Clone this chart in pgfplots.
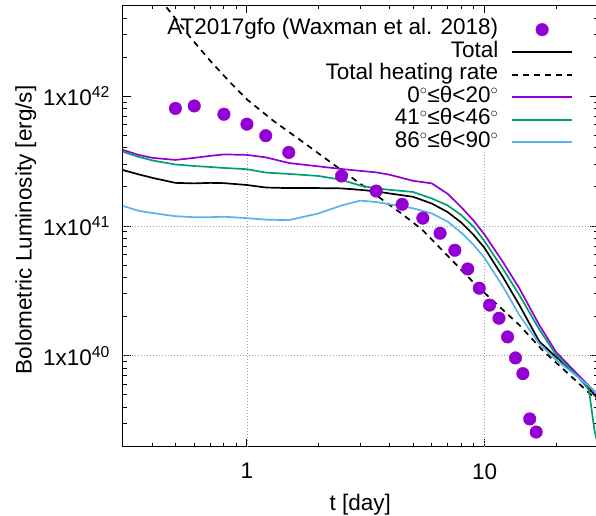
\documentclass[border=0pt]{standalone}
\usepackage{fontspec}
\setmainfont{Liberation Sans}
\usepackage{pgfplots}
\pgfplotsset{compat=1.18}
\definecolor{cpurple}{HTML}{9400D3}
\definecolor{cgreen}{HTML}{009E73}
\definecolor{cblue}{HTML}{56B4E9}
\definecolor{cgrid}{HTML}{A0A0A0}
\pgfplotsset{
  linelegend/.style={legend image code/.code={\draw[##1] (0bp,0bp) -- (60bp,0bp);}},
  dotlegend/.style={legend image code/.code={\draw[mark repeat=2,mark phase=2,##1] plot coordinates {(0bp,0bp) (30bp,0bp) (60bp,0bp)};}},
  gridline/.style={cgrid, line width=0.8bp, dash pattern=on 1bp off 2bp, forget plot},
}

\begin{document}
\fontsize{22.5bp}{27bp}\selectfont
\begin{tikzpicture}[font=\fontsize{22.5bp}{27bp}\selectfont]
\begin{axis}[
  scale only axis, width=475.2bp, height=441.2bp,
  xmode=log, ymode=log,
  xmin=0.3, xmax=30, ymin=2e39, ymax=5e42,
  xtick={1,10}, xticklabels={1,10},
  minor xtick={0.4,0.5,0.6,0.7,0.8,0.9,2,3,4,5,6,7,8,9,20},
  ytick={1e40,1e41,1e42},
  yticklabels={1x10\textsuperscript{40},1x10\textsuperscript{41},1x10\textsuperscript{42}},
  minor ytick={3e39,4e39,5e39,6e39,7e39,8e39,9e39,2e40,3e40,4e40,5e40,6e40,7e40,8e40,9e40,2e41,3e41,4e41,5e41,6e41,7e41,8e41,9e41,2e42,3e42,4e42},
  tick align=inside, xtick pos=both, ytick pos=both,
  major tick length=8bp, minor tick length=4bp,
  every tick/.style={black, line width=1bp},
  axis line style={black, line width=1.2bp},
  xticklabel style={yshift=-9bp},
  yticklabel style={xshift=-5bp},
  xlabel={t [day]}, ylabel={Bolometric Luminosity [erg/s]},
  xlabel style={at={(axis description cs:0.5,0)}, anchor=center, yshift=-58bp},
  ylabel style={at={(axis description cs:-0.204,0.491)}, anchor=center},
  legend style={draw=none, fill=none, at={(0.9476,0.970)}, anchor=north east,
    inner sep=0pt, outer sep=0pt, row sep=0.5bp, column sep=13bp,
    nodes={inner sep=0pt, text height=16bp, text depth=6bp},
    font=\fontsize{22.5bp}{27bp}\selectfont},
  legend cell align=right, legend plot pos=right,
  linelegend,
]
% grid segments
\addplot[gridline] coordinates {(1,2e39) (1,3.7e41)};
\addplot[gridline] coordinates {(10,2e39) (10,3.7e41)};
\addplot[gridline] coordinates {(0.3,1e41) (30,1e41)};
\addplot[gridline] coordinates {(0.3,1e40) (30,1e40)};

% AT2017gfo (Waxman et al. 2018)
\addplot[cpurple, only marks, mark=*, mark size=6.3bp, mark options={draw=none, fill=cpurple}, dotlegend]
  coordinates {
  (0.5,8.05e41) (0.6,8.41e41) (0.8,7.26e41) (1.0,6.09e41) (1.2,4.96e41) (1.5,3.69e41)
  (2.5,2.43e41) (3.5,1.86e41) (4.5,1.47e41) (5.5,1.15e41) (6.5,8.80e40) (7.5,6.51e40)
  (8.5,4.67e40) (9.5,3.32e40) (10.5,2.46e40) (11.5,1.95e40) (12.5,1.40e40) (13.5,9.64e39)
  (14.5,7.30e39) (15.5,3.27e39) (16.5,2.59e39)
  };
\addlegendentry{AT2017gfo (Waxman et al. 2018)}

% Total
\addplot[black, line width=1.7bp, line join=round] coordinates {
  (0.3,2.70e41) (0.35,2.50e41) (0.4,2.35e41) (0.5,2.15e41) (0.6,2.13e41) (0.7,2.15e41)
  (0.8,2.14e41) (1,2.07e41) (1.2,1.98e41) (1.5,1.96e41) (2,1.96e41) (2.5,1.95e41)
  (3,1.90e41) (3.5,1.85e41) (4,1.78e41) (5,1.68e41) (6,1.49e41) (7,1.28e41)
  (8,1.06e41) (9,8.54e40) (10,6.78e40) (12,4.00e40) (14,2.47e40) (17,1.29e40)
  (20,9.81e39) (25,6.89e39) (30,4.66e39)
  };
\addlegendentry{Total}

% Total heating rate
\addplot[black, line width=1.7bp, dash pattern=on 6bp off 5bp] coordinates {
  (0.43,5.65e42) (0.456,4.90e42) (0.486,4.23e42) (0.590,2.71e42) (0.705,1.85e42)
  (0.856,1.26e42) (1.006,9.36e41) (1.294,6.45e41) (1.714,4.46e41) (2.37,2.89e41)
  (3.17,1.97e41) (4.52,1.23e41) (5.48,9.33e40) (9.20,3.52e40) (14.0,1.73e40)
  (17.5,1.11e40) (30,4.5e39)
  };
\addlegendentry{Total heating rate}

% 0-20 deg
\addplot[cpurple, line width=1.7bp, line join=round] coordinates {
  (0.3,3.86e41) (0.35,3.53e41) (0.4,3.35e41) (0.5,3.23e41) (0.6,3.35e41) (0.7,3.47e41)
  (0.8,3.56e41) (1,3.53e41) (1.2,3.38e41) (1.5,3.06e41) (2,2.88e41) (2.5,2.75e41)
  (3,2.66e41) (3.5,2.59e41) (4,2.48e41) (5,2.23e41) (6,2.13e41) (7,1.77e41)
  (8,1.39e41) (9,1.10e41) (10,8.59e40) (12,5.22e40) (14,3.32e40) (17,1.73e40)
  (20,1.07e40) (25,7.01e39) (30,5.00e39)
  };
\addlegendentry{0$^\circ$≤θ<20$^\circ$}

% 41-46 deg
\addplot[cgreen, line width=1.7bp, line join=round] coordinates {
  (0.3,3.74e41) (0.35,3.41e41) (0.4,3.20e41) (0.5,2.98e41) (0.6,2.90e41) (0.7,2.85e41)
  (0.8,2.80e41) (1,2.74e41) (1.2,2.58e41) (1.5,2.52e41) (2,2.43e41) (2.5,2.27e41)
  (3,2.05e41) (3.5,1.95e41) (4,1.90e41) (5,1.83e41) (6,1.63e41) (7,1.44e41)
  (8,1.21e41) (9,9.84e40) (10,7.64e40) (12,4.63e40) (14,2.95e40) (17,1.60e40)
  (20,1.02e40) (25,6.77e39) (27.5,5.47e39) (29,2.69e39) (30,2.06e39)
  };
\addlegendentry{41$^\circ$≤θ<46$^\circ$}

% 86-90 deg
\addplot[cblue, line width=1.7bp, line join=round] coordinates {
  (0.3,1.43e41) (0.35,1.31e41) (0.4,1.26e41) (0.5,1.19e41) (0.6,1.17e41) (0.7,1.17e41)
  (0.8,1.18e41) (1,1.15e41) (1.2,1.12e41) (1.5,1.11e41) (2,1.25e41) (2.5,1.44e41)
  (3,1.57e41) (3.5,1.53e41) (4,1.47e41) (5,1.37e41) (6,1.25e41) (7,1.08e41)
  (8,8.85e40) (9,7.15e40) (10,5.68e40) (12,3.38e40) (14,2.07e40) (17,1.24e40)
  (20,9.31e39) (25,6.77e39) (30,5.09e39)
  };
\addlegendentry{86$^\circ$≤θ<90$^\circ$}
\end{axis}
\pgfresetboundingbox
\path[use as bounding box] (-122.7bp,-69.3bp) rectangle (473.3bp,446.7bp);
\end{tikzpicture}
\end{document}
